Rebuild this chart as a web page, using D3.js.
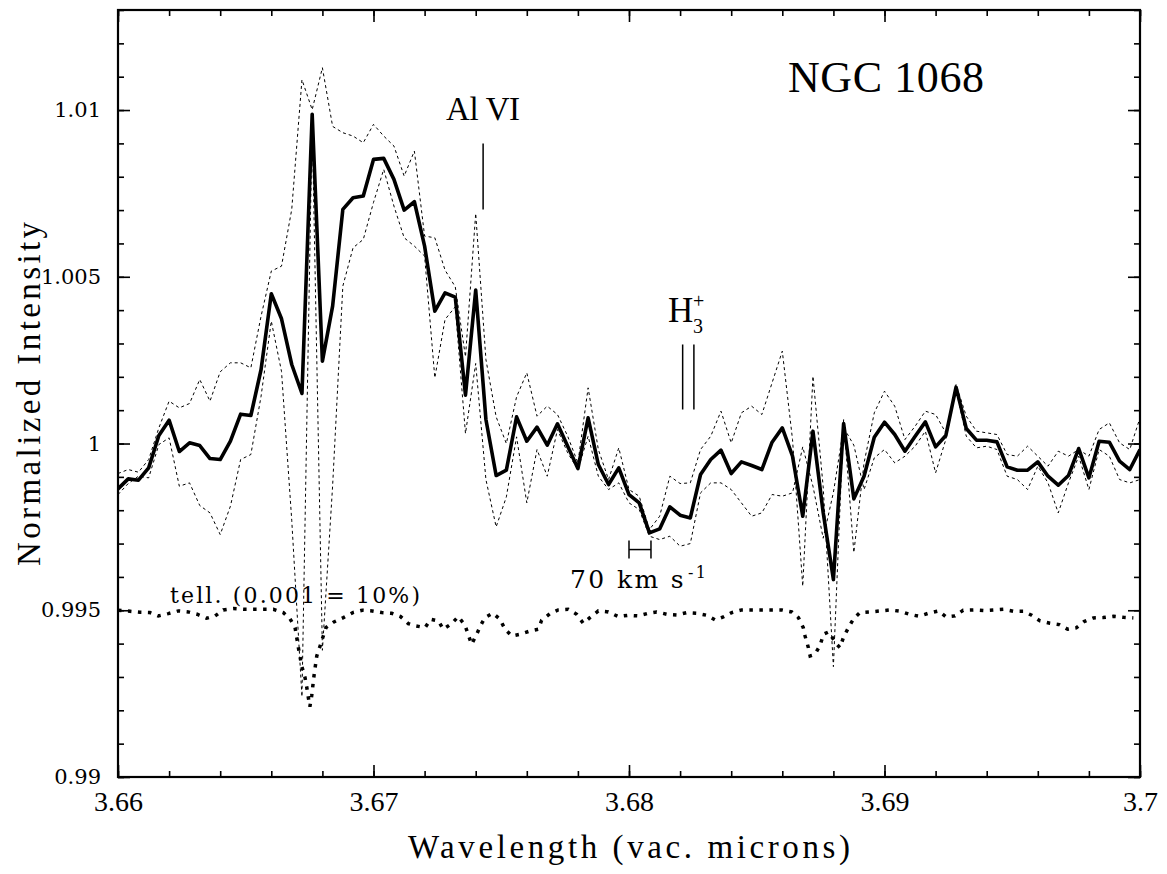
<!DOCTYPE html>
<html>
<head>
<meta charset="utf-8">
<script src="https://cdn.jsdelivr.net/npm/d3@7/dist/d3.min.js"></script>
<style>
  body { margin: 0; background: #fff; }
  svg { display: block; }
</style>
</head>
<body>
<div id="chart"></div>
<script>
// wavelength grid of the spectra (vac. microns)
var wave = [
  3.6600,3.6604,3.6608,3.6612,3.6616,3.6620,3.6624,3.6628,3.6632,3.6636,
  3.6640,3.6644,3.6648,3.6652,3.6656,3.6660,3.6664,3.6668,3.6672,3.6676,
  3.6680,3.6684,3.6688,3.6692,3.6696,3.6700,3.6704,3.6708,3.6712,3.6716,
  3.6720,3.6724,3.6728,3.6732,3.6736,3.6740,3.6744,3.6748,3.6752,3.6756,
  3.6760,3.6764,3.6768,3.6772,3.6776,3.6780,3.6784,3.6788,3.6792,3.6796,
  3.6800,3.6804,3.6808,3.6812,3.6816,3.6820,3.6824,3.6828,3.6832,3.6836,
  3.6840,3.6844,3.6848,3.6852,3.6856,3.6860,3.6864,3.6868,3.6872,3.6876,
  3.6880,3.6884,3.6888,3.6892,3.6896,3.6900,3.6904,3.6908,3.6912,3.6916,
  3.6920,3.6924,3.6928,3.6932,3.6936,3.6940,3.6944,3.6948,3.6952,3.6956,
  3.6960,3.6964,3.6968,3.6972,3.6976,3.6980,3.6984,3.6988,3.6992,3.6996,
  3.7000
];

// averaged spectrum (thick line)
var meanFlux = [
  0.99864,0.99894,0.99890,0.99927,1.00024,1.00070,0.99976,1.00002,0.99994,0.99955,
  0.99952,1.00007,1.00088,1.00084,1.00222,1.00449,1.00374,1.00237,1.00150,1.00987,
  1.00247,1.00412,1.00702,1.00737,1.00742,1.00852,1.00855,1.00792,1.00700,1.00725,
  1.00592,1.00397,1.00452,1.00439,1.00145,1.00460,1.00072,0.99904,0.99920,1.00080,
  1.00007,1.00049,0.99995,1.00059,0.99992,0.99925,1.00077,0.99937,0.99877,0.99927,
  0.99847,0.99822,0.99732,0.99744,0.99810,0.99785,0.99777,0.99907,0.99952,0.99980,
  0.99910,0.99945,0.99934,0.99922,1.00004,1.00047,0.99962,0.99782,1.00037,0.99793,
  0.99592,1.00060,0.99834,0.99902,1.00019,1.00064,1.00027,0.99977,1.00022,1.00065,
  0.99990,1.00024,1.00169,1.00045,1.00010,1.00010,1.00005,0.99930,0.99920,0.99920,
  0.99945,0.99902,0.99875,0.99904,0.99985,0.99897,1.00007,1.00004,0.99947,0.99922,
  0.99982
];

// the two individual spectra (thin dashed)
var specA = [
  0.99910,0.99922,0.99914,0.99952,1.00047,1.00127,1.00107,1.00120,1.00192,1.00127,
  1.00215,1.00242,1.00242,1.00227,1.00382,1.00517,1.00532,1.00702,1.01091,1.01001,
  1.01127,1.00951,1.00932,1.00922,1.00902,1.00957,1.00922,1.00892,1.00802,1.00877,
  1.00622,1.00617,1.00520,1.00470,1.00260,1.00690,1.00252,1.00080,1.00000,1.00140,
  1.00212,1.00082,1.00112,1.00087,1.00022,0.99942,1.00167,0.99982,0.99892,0.99987,
  0.99862,0.99842,0.99742,0.99782,0.99902,0.99880,0.99882,0.99982,1.00022,1.00097,
  1.00002,1.00092,1.00112,1.00087,1.00182,1.00277,1.00012,0.99572,1.00202,0.99870,
  0.99331,1.00072,0.99673,0.99942,1.00092,1.00157,1.00112,1.00012,1.00052,1.00097,
  1.00087,1.00032,1.00177,1.00082,1.00037,1.00032,1.00027,0.99967,0.99962,0.99992,
  0.99962,0.99932,0.99977,0.99962,0.99982,0.99962,1.00042,1.00062,1.00002,0.99982,
  1.00077
];
var specB = [
  0.99847,0.99880,0.99902,0.99897,0.99997,1.00017,0.99872,0.99882,0.99814,0.99792,
  0.99727,0.99812,0.99952,0.99967,1.00142,1.00367,1.00216,0.99770,0.99241,1.00970,
  0.99380,0.99873,1.00472,1.00587,1.00612,1.00723,1.00822,1.00712,1.00617,1.00592,
  1.00562,1.00197,1.00372,1.00410,1.00030,1.00240,0.99892,0.99750,0.99840,1.00020,
  0.99822,0.99982,0.99902,1.00042,0.99972,0.99922,1.00022,0.99902,0.99862,0.99882,
  0.99822,0.99802,0.99722,0.99712,0.99722,0.99692,0.99700,0.99852,0.99882,0.99882,
  0.99862,0.99822,0.99782,0.99792,0.99847,0.99842,0.99852,0.99990,0.99872,0.99716,
  0.99853,1.00048,0.99995,0.99862,0.99957,0.99982,0.99942,0.99962,0.99992,1.00037,
  0.99912,1.00012,1.00162,1.00022,0.99987,0.99992,0.99982,0.99902,0.99892,0.99862,
  0.99932,0.99882,0.99792,0.99882,0.99962,0.99862,0.99982,0.99962,0.99892,0.99882,
  0.99892
];

// telluric spectrum, offset to 0.995 (0.001 = 10%)
var tellWave = [
  3.66000,3.66047,3.66086,3.66125,3.66158,3.66197,3.66236,3.66275,3.66310,3.66347,
  3.66380,3.66412,3.66451,3.66490,3.66530,3.66569,3.66608,3.66647,3.66673,3.66693,
  3.66706,3.66719,3.66732,3.66739,3.66745,3.66751,3.66758,3.66767,3.66778,3.66791,
  3.66814,3.66845,3.66882,3.66919,3.66956,3.66995,3.67032,3.67071,3.67106,3.67136,
  3.67166,3.67202,3.67224,3.67254,3.67273,3.67306,3.67332,3.67358,3.67384,3.67404,
  3.67417,3.67436,3.67467,3.67495,3.67515,3.67541,3.67573,3.67613,3.67645,3.67658,
  3.67691,3.67723,3.67762,3.67795,3.67821,3.67847,3.67880,3.67919,3.67958,3.67997,
  3.68036,3.68076,3.68108,3.68148,3.68187,3.68226,3.68265,3.68304,3.68337,3.68369,
  3.68402,3.68441,3.68480,3.68519,3.68559,3.68598,3.68637,3.68663,3.68682,3.68689,
  3.68702,3.68709,3.68728,3.68748,3.68761,3.68781,3.68800,3.68813,3.68826,3.68839,
  3.68859,3.68878,3.68904,3.68943,3.68982,3.69022,3.69061,3.69097,3.69135,3.69171,
  3.69211,3.69241,3.69276,3.69308,3.69348,3.69387,3.69426,3.69465,3.69504,3.69543,
  3.69576,3.69609,3.69648,3.69684,3.69717,3.69750,3.69781,3.69817,3.69856,3.69896,
  3.69935,3.69974
];
var tellFlux = [
  0.99500,0.99497,0.99494,0.99493,0.99483,0.99490,0.99498,0.99495,0.99488,0.99476,
  0.99483,0.99501,0.99505,0.99503,0.99503,0.99503,0.99503,0.99493,0.99475,0.99448,
  0.99388,0.99333,0.99298,0.99268,0.99238,0.99211,0.99243,0.99303,0.99363,0.99393,
  0.99448,0.99465,0.99478,0.99493,0.99500,0.99498,0.99493,0.99491,0.99481,0.99460,
  0.99453,0.99448,0.99473,0.99468,0.99443,0.99460,0.99481,0.99455,0.99398,0.99428,
  0.99451,0.99478,0.99491,0.99473,0.99443,0.99423,0.99428,0.99438,0.99443,0.99470,
  0.99490,0.99501,0.99503,0.99488,0.99461,0.99478,0.99498,0.99495,0.99481,0.99485,
  0.99483,0.99491,0.99495,0.99488,0.99486,0.99493,0.99491,0.99485,0.99471,0.99480,
  0.99493,0.99501,0.99501,0.99501,0.99501,0.99501,0.99495,0.99478,0.99448,0.99423,
  0.99388,0.99363,0.99368,0.99395,0.99428,0.99435,0.99413,0.99398,0.99388,0.99418,
  0.99448,0.99473,0.99493,0.99495,0.99498,0.99501,0.99497,0.99488,0.99482,0.99491,
  0.99498,0.99480,0.99483,0.99500,0.99501,0.99499,0.99501,0.99503,0.99497,0.99497,
  0.99485,0.99468,0.99461,0.99457,0.99443,0.99447,0.99466,0.99477,0.99478,0.99482,
  0.99479,0.99477
];

// axis ticks
var xTicks = [3.66, 3.67, 3.68, 3.69, 3.70];
var xTickLabels = ["3.66", "3.67", "3.68", "3.69", "3.7"];
var yTicks = [0.99, 0.995, 1.0, 1.005, 1.01];
var yTickLabels = ["0.99", "0.995", "1", "1.005", "1.01"];

// line markers
var alViWave = [3.67429];
var h3Wave = [3.68210, 3.68254];
var velBar = [3.68000, 3.68086];   // 70 km/s at 3.68 microns


//Set-up canvas
var svgWidth = 1167;
var svgHeight = 874;

var margin = { top: 10, right: 27, bottom: 97, left: 118 };
var width = svgWidth - margin.left - margin.right;
var height = svgHeight - margin.top - margin.bottom;

var svg = d3.select("#chart")
    .append("svg")
    .attr("width", svgWidth)
    .attr("height", svgHeight)
    .style("background", "#fff");

var chartGroup = svg.append("g")
    .attr("transform", `translate(${margin.left}, ${margin.top})`);

var x = d3.scaleLinear().domain([3.66, 3.70]).range([0, width]);
var y = d3.scaleLinear().domain([0.99, 1.013]).range([height, 0]);

svg.append("defs").append("clipPath")
    .attr("id", "plotclip")
    .append("rect")
    .attr("width", width)
    .attr("height", height);

//ticks: major with labels, minor without, on all four sides
var xMinor = x.ticks(20);
var yMinor = y.ticks(23);

function styleAxis(g) {
    g.select(".domain").remove();
    g.selectAll("line").attr("stroke", "#000").attr("stroke-width", 1.6);
}

chartGroup.append("g")
    .attr("transform", `translate(0, ${height})`)
    .call(d3.axisBottom(x).tickValues(xMinor).tickSize(-6).tickFormat(""))
    .call(styleAxis);
chartGroup.append("g")
    .call(d3.axisTop(x).tickValues(xMinor).tickSize(-6).tickFormat(""))
    .call(styleAxis);
chartGroup.append("g")
    .call(d3.axisLeft(y).tickValues(yMinor).tickSize(-6).tickFormat(""))
    .call(styleAxis);
chartGroup.append("g")
    .attr("transform", `translate(${width}, 0)`)
    .call(d3.axisRight(y).tickValues(yMinor).tickSize(-6).tickFormat(""))
    .call(styleAxis);

var xAxis = chartGroup.append("g")
    .attr("transform", `translate(0, ${height})`)
    .call(d3.axisBottom(x).tickValues(xTicks).tickSize(-12).tickPadding(14)
        .tickFormat((d, i) => xTickLabels[i]))
    .call(styleAxis);
xAxis.selectAll("text")
    .style("font-family", "'Liberation Serif', serif")
    .style("font-size", "28px")
    .attr("fill", "#000");

chartGroup.append("g")
    .call(d3.axisTop(x).tickValues(xTicks).tickSize(-12).tickFormat(""))
    .call(styleAxis);

var yAxis = chartGroup.append("g")
    .call(d3.axisLeft(y).tickValues(yTicks).tickSize(-12).tickPadding(17)
        .tickFormat((d, i) => yTickLabels[i]))
    .call(styleAxis);
yAxis.selectAll("text")
    .style("font-family", "'DejaVu Serif', serif")
    .style("font-size", "21px")
    .attr("fill", "#000");

chartGroup.append("g")
    .attr("transform", `translate(${width}, 0)`)
    .call(d3.axisRight(y).tickValues(yTicks).tickSize(-12).tickFormat(""))
    .call(styleAxis);

//frame
chartGroup.append("rect")
    .attr("width", width)
    .attr("height", height)
    .attr("fill", "none")
    .attr("stroke", "#000")
    .attr("stroke-width", 2.2);

//spectra
var plot = chartGroup.append("g").attr("clip-path", "url(#plotclip)");

var line = d3.line()
    .x(d => x(d[0]))
    .y(d => y(d[1]));

[specA, specB].forEach(function(s) {
    plot.append("path")
        .datum(wave.map((w, i) => [w, s[i]]))
        .attr("d", line)
        .attr("fill", "none")
        .attr("stroke", "#000")
        .attr("stroke-width", 1)
        .attr("stroke-dasharray", "3,3");
});

plot.append("path")
    .datum(tellWave.map((w, i) => [w, tellFlux[i]]))
    .attr("d", line)
    .attr("fill", "none")
    .attr("stroke", "#000")
    .attr("stroke-width", 3.5)
    .attr("stroke-dasharray", "3.5,6.5");

plot.append("path")
    .datum(wave.map((w, i) => [w, meanFlux[i]]))
    .attr("d", line)
    .attr("fill", "none")
    .attr("stroke", "#000")
    .attr("stroke-width", 3.6)
    .attr("stroke-linejoin", "round");

//line identifications
chartGroup.selectAll(".alvi")
    .data(alViWave)
    .enter()
    .append("line")
    .attr("x1", d => x(d)).attr("x2", d => x(d))
    .attr("y1", y(1.0090)).attr("y2", y(1.00702))
    .attr("stroke", "#000").attr("stroke-width", 1.5);

chartGroup.append("text")
    .attr("x", x(alViWave[0]))
    .attr("y", 110)
    .attr("text-anchor", "middle")
    .attr("textLength", 74)
    .style("font-family", "'Liberation Serif', serif")
    .style("font-size", "33px")
    .text("Al VI");

chartGroup.selectAll(".h3")
    .data(h3Wave)
    .enter()
    .append("line")
    .attr("x1", d => x(d)).attr("x2", d => x(d))
    .attr("y1", y(1.00297)).attr("y2", y(1.00102))
    .attr("stroke", "#000").attr("stroke-width", 1.5);

// H3+ : subscript 3 and superscript + stacked
chartGroup.append("text")
    .attr("x", 550).attr("y", 312)
    .style("font-family", "'Liberation Serif', serif")
    .style("font-size", "35px")
    .text("H");
chartGroup.append("text")
    .attr("x", 575).attr("y", 323)
    .style("font-family", "'Liberation Serif', serif")
    .style("font-size", "20px")
    .text("3");
chartGroup.append("text")
    .attr("x", 575).attr("y", 298)
    .style("font-family", "'Liberation Serif', serif")
    .style("font-size", "20px")
    .text("+");

//velocity resolution bar
chartGroup.append("line")
    .attr("x1", x(velBar[0])).attr("x2", x(velBar[1]))
    .attr("y1", y(0.99682)).attr("y2", y(0.99682))
    .attr("stroke", "#000").attr("stroke-width", 1.5);
chartGroup.selectAll(".velend")
    .data(velBar)
    .enter()
    .append("line")
    .attr("x1", d => x(d)).attr("x2", d => x(d))
    .attr("y1", y(0.99682) - 9).attr("y2", y(0.99682) + 9)
    .attr("stroke", "#000").attr("stroke-width", 1.5);

var velText = chartGroup.append("text")
    .attr("x", 452).attr("y", 578)
    .attr("textLength", 136)
    .style("font-family", "'DejaVu Serif', serif")
    .style("font-size", "25px");
velText.append("tspan").text("70 km s");
velText.append("tspan")
    .attr("dx", 2)
    .attr("dy", -10)
    .style("font-size", "16px")
    .text("-1");

chartGroup.append("text")
    .attr("x", 52).attr("y", 593)
    .attr("textLength", 250)
    .style("font-family", "'DejaVu Serif', serif")
    .style("font-size", "22px")
    .text("tell. (0.001 = 10%)");

chartGroup.append("text")
    .attr("x", 670).attr("y", 82)
    .attr("textLength", 196)
    .style("font-family", "'Liberation Serif', serif")
    .style("font-size", "44px")
    .text("NGC 1068");

//axis titles
svg.append("text")
    .attr("x", margin.left + width / 2)
    .attr("y", 858)
    .attr("text-anchor", "middle")
    .attr("textLength", 442)
    .style("font-family", "'Liberation Serif', serif")
    .style("font-size", "33px")
    .text("Wavelength (vac. microns)");

svg.append("text")
    .attr("transform", "rotate(-90)")
    .attr("x", -394)
    .attr("y", 40)
    .attr("text-anchor", "middle")
    .attr("textLength", 344)
    .style("font-family", "'Liberation Serif', serif")
    .style("font-size", "33px")
    .text("Normalized Intensity");
</script>
</body>
</html>
